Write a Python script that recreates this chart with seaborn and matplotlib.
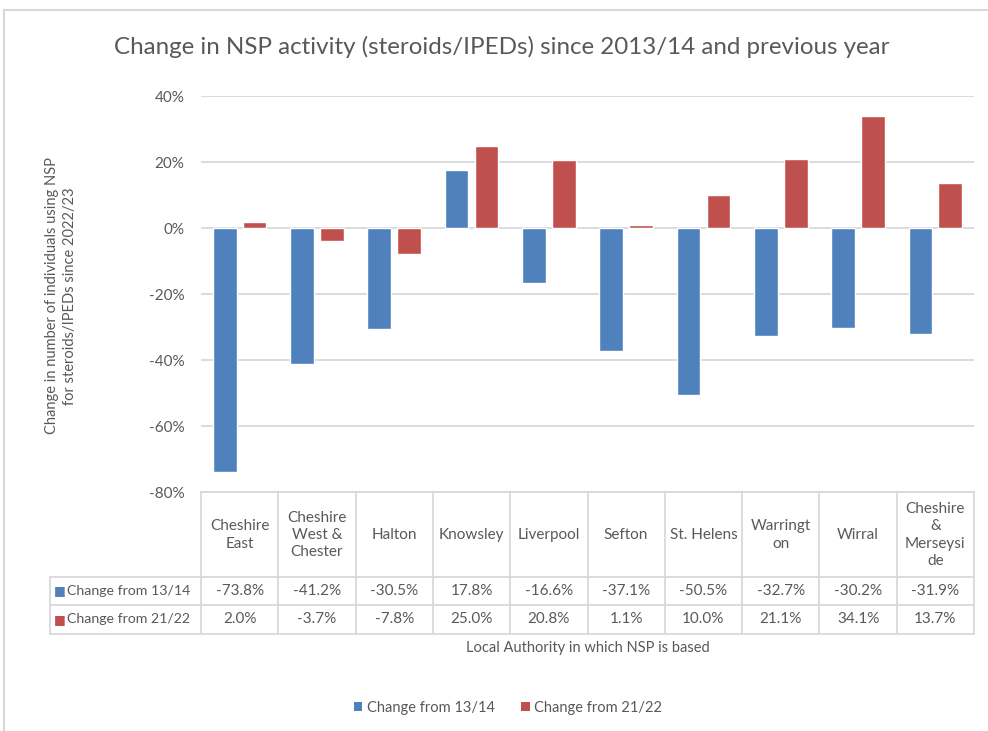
import matplotlib
matplotlib.use("Agg")
import matplotlib.pyplot as plt
from matplotlib.lines import Line2D
from matplotlib.patches import Patch
import pandas as pd
import seaborn as sns

# Données
categories = ["Cheshire East", "Cheshire West & Chester", "Halton", "Knowsley", "Liverpool",
              "Sefton", "St. Helens", "Warrington", "Wirral", "Cheshire & Merseyside"]
# libellés tels qu'ils sont coupés dans le tableau
table_labels = ["Cheshire\nEast", "Cheshire\nWest &\nChester", "Halton", "Knowsley", "Liverpool",
                "Sefton", "St. Helens", "Warringt\non", "Wirral", "Cheshire\n&\nMerseysi\nde"]
series_names = ["Change from 13/14", "Change from 21/22"]
change_13_14 = [-73.8, -41.2, -30.5, 17.8, -16.6, -37.1, -50.5, -32.7, -30.2, -31.9]
change_21_22 = [2.0, -3.7, -7.8, 25.0, 20.8, 1.1, 10.0, 21.1, 34.1, 13.7]
y_ticks = [-80, -60, -40, -20, 0, 20, 40]

colors = ["#4F81BD", "#C0504D"]
grey_text = "#595959"
grid_col = "#D9D9D9"

df = pd.DataFrame({
    "Autorite": categories * 2,
    "Serie": [series_names[0]] * len(categories) + [series_names[1]] * len(categories),
    "Valeur": change_13_14 + change_21_22,
})

sns.set_theme(style="white")
plt.rcParams["font.family"] = ["Lato", "DejaVu Sans"]

fig = plt.figure(figsize=(9.88, 7.31), dpi=100)
ax = fig.add_axes([201 / 988, 1 - 492.3 / 731, 773 / 988, 396 / 731])

sns.barplot(data=df, x="Autorite", y="Valeur", hue="Serie", palette=colors,
            width=0.776, gap=0.21, ax=ax, legend=False, saturation=1)

ax.set_ylim(-80, 40)
ax.set_xlim(-0.5, len(categories) - 0.5)
ax.set_yticks(y_ticks)
ax.set_yticklabels([f"{v}%" for v in y_ticks], color=grey_text, fontsize=11)
ax.tick_params(axis="y", length=0, pad=12)
ax.set_xticks([])
ax.set_xlabel("")
ax.set_ylabel("")
ax.yaxis.grid(True, color=grid_col, linewidth=1.3)
ax.set_axisbelow(True)
for s in ["left", "right", "top"]:
    ax.spines[s].set_visible(False)
ax.spines["bottom"].set_color(grid_col)
ax.spines["bottom"].set_linewidth(1.3)

# Tableau de données sous le graphique
n = len(categories)
row_lines = [-0.2131, -0.2846, -0.3578]
label_left = (50 - 201) / 773
ta = ax.transAxes
for k in range(n + 1):
    ax.add_line(Line2D([k / n, k / n], [0, row_lines[-1]], transform=ta, color=grid_col,
                       lw=1.3, clip_on=False))
ax.add_line(Line2D([label_left, label_left], [row_lines[0], row_lines[-1]], transform=ta,
                   color=grid_col, lw=1.3, clip_on=False))
for y in row_lines:
    ax.add_line(Line2D([label_left, 1], [y, y], transform=ta, color=grid_col, lw=1.3, clip_on=False))

for k, lab in enumerate(table_labels):
    xc = (k + 0.5) / n
    ax.text(xc, -0.108, lab, transform=ta, ha="center", va="center", fontsize=11,
            color=grey_text, linespacing=1.3)
    ax.text(xc, -0.249, f"{change_13_14[k]:.1f}%", transform=ta, ha="center", va="center",
            fontsize=11, color=grey_text)
    ax.text(xc, -0.321, f"{change_21_22[k]:.1f}%", transform=ta, ha="center", va="center",
            fontsize=11, color=grey_text)

for y, name, c in zip([-0.249, -0.321], series_names, colors):
    ax.text((60 - 201) / 773, y, "\u25A0", transform=ta, ha="center", va="center",
            fontsize=9, color=c, family="DejaVu Sans")
    ax.text((67 - 201) / 773, y, name, transform=ta, ha="left", va="center",
            fontsize=10.2, color=grey_text)

# Titres
fig.text(502 / 988, 1 - 47 / 731, "Change in NSP activity (steroids/IPEDs) since 2013/14 and previous year",
         ha="center", va="center", fontsize=17.4, color=grey_text)
fig.text(587.5 / 988, 1 - 648 / 731, "Local Authority in which NSP is based",
         ha="center", va="center", fontsize=10.5, color=grey_text)
fig.text(61 / 988, 1 - 296 / 731,
         "Change in number of individuals using NSP\nfor steroids/IPEDs since 2022/23",
         ha="center", va="center", rotation=90, fontsize=10.5, color=grey_text, linespacing=1.3)

# Légende
handles = [Patch(facecolor=c, edgecolor="none") for c in colors]
fig.legend(handles, series_names, loc="center", bbox_to_anchor=(508 / 988, 1 - 708 / 731),
           ncol=2, frameon=False, fontsize=10.5, handlelength=0.6, handleheight=0.6,
           handletextpad=0.3, columnspacing=1.8, labelcolor=grey_text)

# Bordure de la zone du graphique
fig.add_artist(Line2D([4 / 988, 4 / 988], [0, 1 - 10 / 731], color=grid_col, lw=1.5))
fig.add_artist(Line2D([4 / 988, 1], [1 - 10 / 731, 1 - 10 / 731], color=grid_col, lw=1.5))

fig.savefig("out.png", dpi=100, facecolor="white")
